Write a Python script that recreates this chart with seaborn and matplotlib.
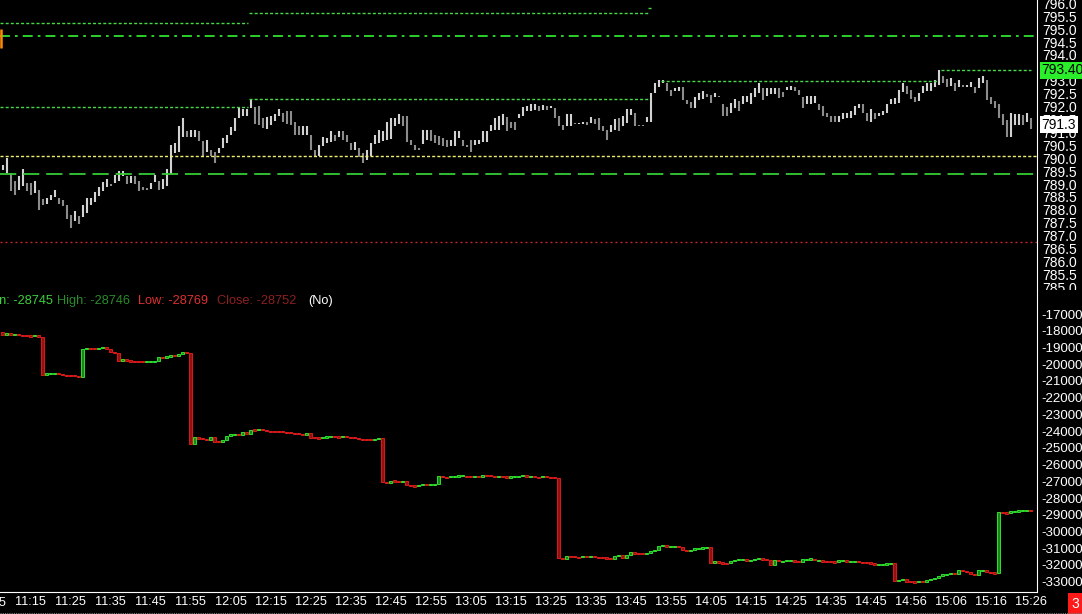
import matplotlib
matplotlib.use("Agg")
import numpy as np
import matplotlib.pyplot as plt
import seaborn as sns
from matplotlib.transforms import Bbox, TransformedBbox
from matplotlib.lines import Line2D
from matplotlib.patches import Rectangle

# one bar per minute, bar 0 = 11:05, first drawn bar = 3
time_labels = ["11:05", "11:15", "11:25", "11:35", "11:45", "11:55", "12:05", "12:15", "12:25",
               "12:35", "12:45", "12:55", "13:05", "13:15", "13:25", "13:35", "13:45", "13:55",
               "14:05", "14:15", "14:25", "14:35", "14:45", "14:56", "15:06", "15:16", "15:26"]
first_bar = 3

price_high = [789.72, 790.00, 789.43, 789.10, 789.30, 789.58, 789.04, 789.04, 789.10, 788.78,
              788.42, 788.46, 788.59, 788.78, 788.46, 788.40, 788.20, 787.82, 787.95, 787.78,
              788.20, 788.46, 788.46, 788.68, 788.89, 789.07, 789.20, 789.02, 789.36, 789.52,
              789.49, 789.30, 789.30, 789.30, 789.11, 788.89, 788.85, 789.04, 789.36, 789.11,
              789.20, 789.58, 790.52, 790.59, 791.23, 791.55, 791.04, 791.10, 791.10, 791.07,
              790.65, 790.71, 790.30, 790.26, 790.39, 790.78, 790.91, 791.20, 791.55, 791.94,
              791.90, 791.90, 792.28, 792.00, 792.03, 791.55, 791.59, 791.62, 791.72, 791.90,
              791.77, 791.81, 791.81, 791.42, 791.23, 791.23, 791.23, 790.91, 790.33, 790.52,
              790.82, 790.78, 791.04, 790.91, 791.04, 791.04, 790.91, 790.59, 790.61, 790.39,
              790.20, 790.30, 790.59, 790.91, 791.10, 791.04, 791.42, 791.55, 791.55, 791.72,
              791.62, 791.62, 790.71, 790.52, 790.39, 791.10, 791.10, 791.10, 790.91, 790.87,
              790.78, 790.71, 790.71, 791.04, 791.04, 790.71, 790.52, 790.71, 790.71, 790.71,
              791.04, 791.04, 791.29, 791.55, 791.62, 791.72, 791.59, 791.42, 791.42, 791.72,
              792.00, 792.03, 792.10, 792.10, 792.03, 792.07, 792.03, 792.03, 791.94, 791.64,
              791.29, 791.72, 791.72, 791.38, 791.38, 791.42, 791.42, 791.59, 791.51, 791.55,
              791.23, 791.10, 791.29, 791.51, 791.55, 791.62, 791.90, 791.90, 791.77, 791.29,
              791.29, 791.59, 792.52, 792.90, 793.03, 793.03, 792.90, 792.65, 792.71, 792.75,
              792.77, 792.26, 792.19, 792.39, 792.52, 792.62, 792.49, 792.45, 792.52, 792.41,
              792.10, 791.98, 792.13, 792.28, 792.23, 792.41, 792.41, 792.52, 792.71, 792.93,
              792.71, 792.71, 792.71, 792.71, 792.71, 792.58, 792.77, 792.80, 792.75, 792.65,
              792.39, 792.41, 792.41, 792.41, 792.10, 792.03, 791.74, 791.64, 791.62, 791.64,
              791.74, 791.77, 791.81, 792.03, 792.10, 792.10, 791.77, 791.90, 791.74, 791.77,
              791.81, 792.10, 792.28, 792.32, 792.65, 792.93, 792.80, 792.65, 792.39, 792.52,
              792.80, 792.90, 792.93, 793.03, 793.42, 793.19, 793.06, 793.10, 792.93, 793.03,
              792.84, 792.84, 792.97, 792.75, 793.10, 793.19, 793.03, 792.39, 792.23, 792.10,
              791.72, 791.49, 791.77, 791.72, 791.72, 791.68, 791.77, 791.55]

price_low = [789.56, 789.43, 788.72, 788.59, 788.78, 788.91, 788.72, 788.59, 788.65, 787.99,
             788.20, 788.24, 788.40, 788.50, 788.24, 788.14, 787.63, 787.28, 787.56, 787.47,
             787.73, 787.88, 788.20, 788.29, 788.53, 788.72, 788.89, 788.91, 789.04, 789.11,
             789.30, 789.02, 789.04, 789.02, 788.72, 788.78, 788.76, 788.81, 789.07, 788.78,
             788.81, 788.91, 789.40, 790.20, 790.23, 790.84, 790.84, 790.82, 790.82, 790.65,
             790.10, 790.26, 790.07, 789.81, 790.20, 790.39, 790.59, 790.91, 791.07, 791.55,
             791.62, 791.64, 791.94, 791.33, 791.29, 791.17, 791.13, 791.29, 791.46, 791.62,
             791.42, 791.33, 791.29, 790.91, 790.91, 790.91, 790.91, 790.30, 790.10, 790.10,
             790.46, 790.59, 790.61, 790.65, 790.84, 790.71, 790.61, 790.33, 790.33, 790.05,
             789.81, 789.92, 790.07, 790.56, 790.59, 790.65, 790.71, 790.74, 791.23, 791.33,
             791.23, 790.61, 790.52, 790.33, 790.30, 790.56, 790.71, 790.65, 790.59, 790.52,
             790.46, 790.43, 790.46, 790.46, 790.78, 790.46, 790.43, 790.23, 790.52, 790.56,
             790.61, 790.61, 791.04, 791.10, 791.10, 791.29, 791.07, 791.17, 791.10, 791.55,
             791.62, 791.81, 791.81, 791.87, 791.81, 791.87, 791.87, 791.94, 791.55, 791.23,
             791.10, 791.23, 791.23, 791.33, 791.33, 791.33, 791.29, 791.36, 791.33, 791.10,
             791.04, 790.71, 791.00, 791.10, 791.04, 791.23, 791.36, 791.68, 791.23, 791.25,
             791.23, 791.42, 791.42, 792.52, 792.77, 792.93, 792.62, 792.41, 792.62, 792.62,
             792.26, 792.10, 791.94, 791.94, 792.26, 792.28, 792.39, 792.13, 792.36, 792.39,
             791.62, 791.62, 791.74, 791.94, 791.81, 792.10, 792.19, 792.10, 792.36, 792.52,
             792.26, 792.41, 792.49, 792.49, 792.32, 792.39, 792.65, 792.65, 792.62, 792.45,
             791.94, 792.10, 792.10, 792.13, 791.87, 791.62, 791.59, 791.42, 791.42, 791.42,
             791.51, 791.55, 791.55, 791.68, 791.94, 791.74, 791.46, 791.42, 791.51, 791.62,
             791.68, 791.74, 792.10, 792.10, 792.13, 792.58, 792.49, 792.28, 792.19, 792.23,
             792.54, 792.62, 792.62, 792.75, 792.84, 792.93, 792.77, 792.80, 792.62, 792.75,
             792.75, 792.75, 792.75, 792.54, 792.71, 792.90, 792.26, 792.10, 791.94, 791.55,
             791.29, 790.82, 790.82, 791.29, 791.29, 791.29, 791.42, 791.13]

# lower study: value at the close of each bar (opens = previous close)
study_open0 = -18100
study_close = [-18260, -18120, -18260, -18180, -18260, -18300, -18310, -18320, -18280, -18360,
               -20650, -20550, -20540, -20530, -20610, -20670, -20680, -20690, -20700, -20750,
               -19110, -19050, -19070, -19080, -19010, -18990, -19070, -19290, -19310, -19790,
               -19690, -19790, -19830, -19840, -19850, -19860, -19840, -19830, -19820, -19570,
               -19600, -19550, -19450, -19490, -19370, -19270, -19330, -24770, -24330, -24450,
               -24470, -24510, -24350, -24630, -24640, -24530, -24270, -24190, -24170, -24230,
               -24070, -24150, -23910, -23950, -23890, -23950, -23990, -24010, -24020, -24030,
               -24040, -24090, -24110, -24150, -24170, -24210, -24130, -24390, -24410, -24420,
               -24370, -24330, -24300, -24350, -24360, -24310, -24350, -24370, -24410, -24450,
               -24510, -24520, -24530, -24480, -24410, -27020, -27080, -26960, -27000, -27020,
               -26960, -27240, -27280, -27290, -27240, -27180, -27220, -27180, -27160, -26680,
               -26740, -26760, -26700, -26690, -26680, -26670, -26720, -26740, -26700, -26720,
               -26640, -26660, -26680, -26720, -26690, -26740, -26750, -26730, -26720, -26710,
               -26640, -26720, -26690, -26730, -26770, -26700, -26760, -26770, -26780, -31580,
               -31620, -31480, -31510, -31520, -31550, -31480, -31550, -31480, -31540, -31550,
               -31560, -31610, -31620, -31460, -31400, -31560, -31420, -31220, -31320, -31330,
               -31340, -31280, -31160, -31100, -30860, -30810, -30910, -30890, -30880, -30950,
               -31120, -31140, -31100, -31000, -30990, -30980, -30920, -31860, -31780, -31860,
               -31900, -31910, -31740, -31700, -31690, -31680, -31720, -31700, -31640, -31630,
               -31660, -31680, -32000, -31700, -31780, -31760, -31750, -31740, -31780, -31800,
               -31660, -31650, -31640, -31720, -31700, -31800, -31810, -31820, -31830, -31720,
               -31710, -31800, -31780, -31770, -31820, -31860, -31880, -31890, -31980, -31960,
               -31950, -31940, -31860, -32940, -32900, -32840, -33000, -33010, -33020, -32960,
               -33000, -32900, -32840, -32800, -32680, -32560, -32540, -32480, -32560, -32320,
               -32380, -32440, -32560, -32580, -32320, -32300, -32440, -32460, -32500, -28850,
               -28880, -28910, -28790, -28780, -28770, -28760, -28745, -28752]

# horizontal levels on the price panel (bar ranges they cover)
step_levels = [795.23, 795.61, 795.81, 792.00, 792.28, 793.01, 793.40]
step_from = [2.3, 64.6, 164.3, 2.3, 64.6, 167.7, 237.7]
step_to = [64.3, 164.3, 165.3, 64.3, 164.3, 236.5, 260.0]
dashdot_level = 794.73
yellow_level = 790.08
longdash_level = 789.39
red_level = 786.74
orange_mark = [794.27, 795.00]

price_ticks = [785.0, 785.5, 786.0, 786.5, 787.0, 787.5, 788.0, 788.5, 789.0, 789.5, 790.0,
               790.5, 791.0, 791.5, 792.0, 792.5, 793.0, 793.5, 794.0, 794.5, 795.0, 795.5, 796.0]
study_ticks = [-17000, -18000, -19000, -20000, -21000, -22000, -23000, -24000, -25000,
               -26000, -27000, -28000, -29000, -30000, -31000, -32000, -33000]
last_price = 791.3
marker_price = 793.40
last_ohlc = ["Open: -28745", "High: -28746", "Low: -28769", "Close: -28752", "(No)"]

sns.set_theme(style="dark", rc={
    "figure.facecolor": "black", "axes.facecolor": "black", "savefig.facecolor": "black",
    "axes.edgecolor": "white", "axes.linewidth": 0.8, "text.color": "white",
    "xtick.color": "white", "ytick.color": "white", "axes.grid": False})
plt.rcParams["font.family"] = ["Liberation Sans", "DejaVu Sans"]

W, H = 1082, 614
fig = plt.figure(figsize=(W / 100, H / 100), dpi=100)
ax1 = fig.add_axes([0, (H - 290) / H, 1037 / W, 290 / H])
ax2 = fig.add_axes([0, (H - 592) / H, 1037 / W, 302 / H], sharex=ax1)

bars = np.arange(first_bar, first_bar + len(price_high))

# price bars
hi = np.array(price_high)
lo = np.array(price_low)
mid = (hi + lo) / 2
up = np.r_[True, mid[1:] >= mid[:-1]]
ax1.vlines(bars[up], lo[up], hi[up], color="#d2d2d2", lw=1.5)
ax1.vlines(bars[~up], lo[~up], hi[~up], color="#8c8c8c", lw=1.5)

green = "#46d846"
for lev, a, b in zip(step_levels, step_from, step_to):
    ax1.hlines(lev, a, b, color=green, lw=1.0, ls=(0, (2.2, 1.5)))
ax1.axhline(dashdot_level, color="#2ee02e", lw=1.3, ls=(0, (5.5, 2.8, 1.5, 2.8)))
ax1.axhline(yellow_level, color="#f0f070", lw=1.0, ls=(0, (2.2, 1.5)))
ax1.axhline(longdash_level, color="#35cc35", lw=1.3, ls=(0, (9, 3.8)))
ax1.axhline(red_level, color="#d02828", lw=1.0, ls=(0, (1.4, 2.2)))
ax1.vlines(2.6, orange_mark[0], orange_mark[1], color="#ff8c00", lw=1.8)

ax1.set_ylim(784.896, 796.128)
ax1.set_xlim(2.33, 261.6)
ax1.yaxis.tick_right()
ax1.set_yticks(price_ticks)
ax1.set_yticklabels([f"{t:.1f}" for t in price_ticks])
ax1.tick_params(axis="y", direction="out", length=2, width=0.8, pad=1.5, labelsize=10,
                colors="white")
ax1.tick_params(axis="x", bottom=False, labelbottom=False)
clip = TransformedBbox(Bbox([[0, 0], [1.2, 1]]), ax1.transAxes)
for lab in ax1.get_yticklabels():
    lab.set_clip_on(True)
    lab.set_clip_box(clip)
ax1.text(1.0045, marker_price, f"{marker_price:.2f}", transform=ax1.get_yaxis_transform(),
         ha="left", va="center", fontsize=10, color="black",
         bbox=dict(boxstyle="square,pad=0.12", fc="#2aee2a", ec="none"))
ax1.text(1.0045, last_price, f"{last_price:.1f}", transform=ax1.get_yaxis_transform(),
         ha="left", va="center", fontsize=10, color="black",
         bbox=dict(boxstyle="square,pad=0.12", fc="white", ec="none"))

# study candles
close = np.array(study_close, float)
opens = np.r_[study_open0, close[:-1]]
size = np.abs(close - opens)
centre = (close + opens) / 2
bottom = np.where(size < 70, centre - 35, np.minimum(close, opens))
height = np.maximum(size, 70)
rise = close > opens
ax2.bar(bars[rise], height[rise], bottom=bottom[rise], width=0.62,
        color="#138a13", edgecolor="#2ee02e", linewidth=0.7)
ax2.bar(bars[~rise], height[~rise], bottom=bottom[~rise], width=0.62,
        color="#9a0e0e", edgecolor="#dc1a1a", linewidth=0.7)

ax2.set_ylim(-33617, -15565)
ax2.yaxis.tick_right()
ax2.set_yticks(study_ticks)
ax2.set_yticklabels([str(t) for t in study_ticks])
ax2.tick_params(axis="y", direction="out", length=2, width=0.8, pad=1.5, labelsize=9.6,
                colors="white")
ax2.set_xticks(np.arange(0, 10 * len(time_labels), 10))
ax2.set_xticklabels(time_labels)
ax2.tick_params(axis="x", direction="out", length=2, width=0.8, pad=1.2, labelsize=9.2,
                colors="white")
ax2.set_xlim(2.33, 261.6)

sns.despine(ax=ax1, left=True, top=True, bottom=True, right=False)
sns.despine(ax=ax2, left=True, top=True, bottom=False, right=False)
for ax in (ax1, ax2):
    ax.spines["right"].set_color("white")
    ax.spines["right"].set_linewidth(0.8)
ax2.spines["bottom"].set_color("white")
ax2.spines["bottom"].set_linewidth(0.8)

# partially visible first time label
fig.text(-9.3 / W, (H - 602.5) / H, time_labels[0], ha="center", va="center", fontsize=9.2,
         color="white")

# last bar readout of the study
readout_x = [-25, 57, 138, 217, 308]
readout_c = ["#3cd23c", "#2a8c2a", "#e03030", "#8c2020", "white"]
for txt, px, c in zip(last_ohlc, readout_x, readout_c):
    fig.text(px / W, (H - 300.7) / H, txt, ha="left", va="center", fontsize=9.2, color=c)

fig.add_artist(Line2D([0, 1], [0.6 / H, 0.6 / H], color="#7a7a7a", lw=0.8, ls=(0, (1, 1)),
                      transform=fig.transFigure))
fig.add_artist(Rectangle((1068 / W, 0), 14 / W, 21 / H, transform=fig.transFigure,
                         fc="#ff1a1a", ec="none"))
fig.text(1075 / W, 10.5 / H, "3", ha="center", va="center", fontsize=10, color="white")

fig.savefig("out.png", dpi=100, facecolor="black")
